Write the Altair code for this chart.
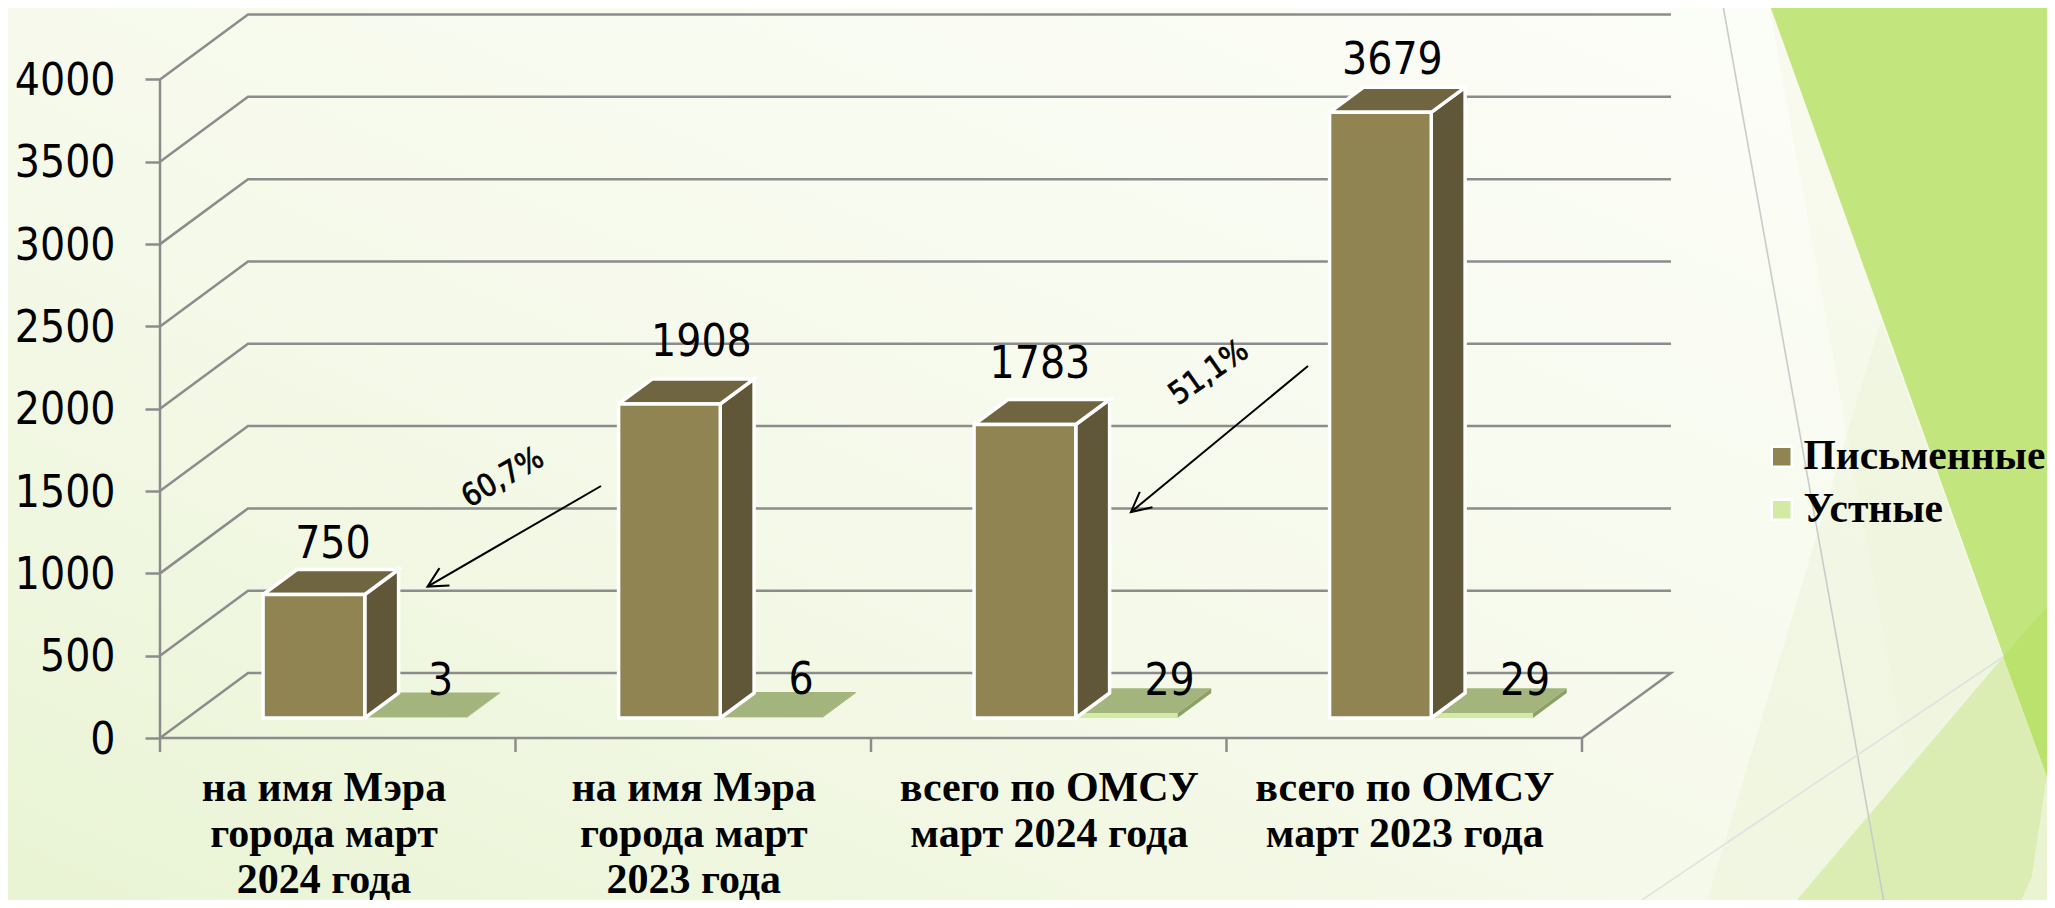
import math
import altair as alt
import pandas as pd

# ---------- chart values ----------
CATEGORY_LINES = [
    ["на имя Мэра", "города март", "2024 года"],
    ["на имя Мэра", "города март", "2023 года"],
    ["всего по ОМСУ", "март 2024 года"],
    ["всего по ОМСУ", "март 2023 года"],
]
WRITTEN = [750, 1908, 1783, 3679]
ORAL = [3, 6, 29, 29]
SERIES = ["Письменные", "Устные"]
Y_TICKS = [0, 500, 1000, 1500, 2000, 2500, 3000, 3500, 4000]
ANNOTATIONS = ["60,7%", "51,1%"]

# ---------- layout of the picture (page pixels) ----------
W, H = 2039, 892
PAGE = 8
X0, CAT_PX = 160.0, 355.5         # left of axis, width of a category
Y0, VAL_PX = 738.0, 658.5 / 4000  # baseline, pixels per unit
WALL_DX, WALL_DY = 88.0, 65.0     # depth of the 3D box

ux = lambda X: (X - X0) / CAT_PX
uy = lambda Y: (Y0 - Y) / VAL_PX
DEPTH_X = WALL_DX / CAT_PX
DEPTH_Y = WALL_DY / VAL_PX

XS = alt.Scale(domain=[ux(PAGE), ux(PAGE + W)], nice=False, zero=False)
YS = alt.Scale(domain=[uy(PAGE + H), uy(PAGE)], nice=False, zero=False)

GAP, BAR_W = 0.2138, 0.286
D1, D2 = 20 / 65, 45 / 65

# ---------- axes (shared by every layer, drawn on top through zindex) ----------
GRID = "#8c8c8c"
LABEL_FONT = "DejaVu Sans Condensed"
LABEL_SIZE = 44
LABEL_AT = [0.46, 1.5, 2.5, 3.5]
expr = "''"
for at, lines in zip(LABEL_AT, CATEGORY_LINES):
    arr = "[" + ",".join("'" + s + "'" for s in lines) + "]"
    expr = f"abs(datum.value-{at})<0.01 ? {arr} : ({expr})"

XA = alt.Axis(
    title=None,
    orient="bottom",
    offset=-(PAGE + H - Y0),
    values=LABEL_AT,
    labelExpr=expr,
    ticks=False,
    domain=False,
    grid=False,
    labelFont="Liberation Serif",
    labelFontWeight="bold",
    labelFontSize=42,
    labelLineHeight=46,
    labelColor="#000000",
    labelPadding=29,
    labelOverlap=False,
    labelFlush=False,
    labelBound=False,
    labelLimit=0,
    zindex=1,
)
YA = alt.Axis(
    title=None,
    orient="left",
    offset=-(X0 - PAGE),
    values=Y_TICKS,
    format="d",
    tickSize=15,
    tickWidth=2.5,
    tickColor=GRID,
    domain=False,
    grid=False,
    labelFont=LABEL_FONT,
    labelFontSize=LABEL_SIZE,
    labelColor="#000000",
    labelPadding=30,
    labelOffset=2,
    labelOverlap=False,
    labelBound=False,
    labelFlush=False,
    zindex=1,
)
XE = alt.X("x:Q", scale=XS, axis=XA)
YE = alt.Y("y:Q", scale=YS, axis=YA)


def poly(points, fill=None, stroke=None, sw=0.0, opacity=1.0):
    """points: list of (x, y) in data units, closed automatically."""
    closed = list(points) + ([points[0]] if fill else [])
    df = pd.DataFrame(
        {"x": [p[0] for p in closed], "y": [p[1] for p in closed], "i": range(len(closed))}
    )
    kw = {"strokeWidth": sw, "opacity": opacity, "strokeJoin": "miter", "clip": False}
    if fill:
        kw["fill"] = fill
    kw["stroke"] = stroke if stroke else "transparent"
    return alt.Chart(df).mark_line(**kw).encode(x=XE, y=YE, order="i:Q")


def px_poly(points, **kw):
    return poly([(ux(a), uy(b)) for a, b in points], **kw)


layers = []

# ---------- background ----------
bg = alt.Chart(pd.DataFrame({"a": [0]})).mark_rect(
    fill=alt.Gradient(
        gradient="linear",
        x1=1, y1=0, x2=0, y2=1,
        stops=[
            alt.GradientStop(color="#fdfefa", offset=0),
            alt.GradientStop(color="#f8fbf0", offset=0.35),
            alt.GradientStop(color="#f5f9e9", offset=0.6),
            alt.GradientStop(color="#e9f4d4", offset=1),
        ],
    )
).encode(x=alt.value(0), x2=alt.value(W), y=alt.value(0), y2=alt.value(H))
layers.append(bg)

layers += [
    px_poly([(1881, 321), (1705, 908), (1790, 908), (2003, 657)], fill="#e6f1cd", opacity=0.32),
    px_poly([(1768, 0), (1907, 763), (2003, 657)], fill="#e6f1cd", opacity=0.22),
    px_poly([(1768, 0), (2047, 777), (2060, 720), (2060, 0)], fill="#c3e57e"),
    px_poly([(2003, 657), (2060, 592), (2060, 720), (2047, 777)], fill="#bae26d"),
    px_poly([(1790, 908), (2003, 657), (2047, 777), (2032, 877), (2018, 908)], fill="#dcedb4"),
    px_poly([(2018, 908), (2032, 877), (2047, 777), (2060, 810), (2060, 908)], fill="#eaf4d3"),
    px_poly([(1722, 0), (1885, 908)], stroke="#c9cbcb", sw=1.6),
    px_poly([(1630, 908), (2003, 657)], stroke="#dfe2df", sw=1.6),
]

# ---------- walls and grid ----------
for v in Y_TICKS:
    if v > 0:
        layers.append(poly([(0, v), (DEPTH_X, v + DEPTH_Y), (ux(1671), v + DEPTH_Y)], stroke=GRID, sw=2.5))
layers.append(poly([(0, 0), (DEPTH_X, DEPTH_Y), (ux(1671), DEPTH_Y), (4, 0), (0, 0)], stroke=GRID, sw=2.5))
layers.append(poly([(0, 0), (0, 4000)], stroke=GRID, sw=2.5))
for i in range(5):
    layers.append(poly([(i, 0), (i, uy(Y0 + 14))], stroke=GRID, sw=2.5))


# ---------- 3D bars ----------
def box(xl, xr, value, top_col, side_col, stroke, sw):
    bx, by = D1 * DEPTH_X, D1 * DEPTH_Y
    tx, ty = D2 * DEPTH_X, D2 * DEPTH_Y
    side = poly(
        [(xr + bx, by), (xr + tx, ty), (xr + tx, ty + value), (xr + bx, by + value)],
        fill=side_col, stroke=stroke, sw=sw,
    )
    top = poly(
        [(xl + bx, by + value), (xr + bx, by + value), (xr + tx, ty + value), (xl + tx, ty + value)],
        fill=top_col, stroke=stroke, sw=sw,
    )
    return [side, top]


color = alt.Color(
    "series:N",
    scale=alt.Scale(domain=SERIES, range=["#918453", "#d3eaa5"]),
    legend=alt.Legend(
        title=None,
        orient="none",
        legendX=1761 - PAGE,
        legendY=436 - PAGE,
        padding=0,
        symbolType="square",
        symbolSize=400,
        symbolStrokeColor="#ffffff",
        symbolStrokeWidth=2.5,
        symbolOpacity=1,
        labelFont="Liberation Serif",
        labelFontWeight="bold",
        labelFontSize=41.5,
        labelColor="#000000",
        labelLimit=400,
        labelOffset=1,
        rowPadding=10,
    ),
)


def fronts(values, name, offset, stroke, sw):
    bx, by = D1 * DEPTH_X, D1 * DEPTH_Y
    df = pd.DataFrame(
        {
            "x": [i + GAP + offset * BAR_W + bx for i in range(4)],
            "x2": [i + GAP + (offset + 1) * BAR_W + bx for i in range(4)],
            "y": [by] * 4,
            "y2": [by + v for v in values],
            "series": [name] * 4,
        }
    )
    return alt.Chart(df).mark_rect(stroke=stroke, strokeWidth=sw, opacity=1, strokeJoin="miter").encode(
        x=XE, x2="x2:Q", y=YE, y2="y2:Q", color=color,
    )


for i, v in enumerate(ORAL):
    layers += box(i + GAP + BAR_W, i + GAP + 2 * BAR_W, v, "#a3b47d", "#8da066", None, 0)
layers.append(fronts(ORAL, SERIES[1], 1, "transparent", 0))
for i, v in enumerate(WRITTEN):
    layers += box(i + GAP, i + GAP + BAR_W, v, "#6f6540", "#5f5737", "#ffffff", 3.5)
layers.append(fronts(WRITTEN, SERIES[0], 0, "#ffffff", 3.5))

# ---------- value labels ----------
bx, by = D1 * DEPTH_X, D1 * DEPTH_Y
lab_rows = []
W_NUDGE = [(19, 52.5), (32, 64), (15, 62.5), (12, 54)]  # px from the front-face top centre
O_NUDGE = [(25, 39), (30, 39), (43, 34), (43, 34)]
for i, v in enumerate(WRITTEN):
    cx = i + GAP + 0.5 * BAR_W + bx
    lab_rows.append({"x": cx + W_NUDGE[i][0] / CAT_PX, "y": by + v + W_NUDGE[i][1] / VAL_PX, "t": str(v)})
for i, v in enumerate(ORAL):
    cx = i + GAP + 1.5 * BAR_W + bx
    lab_rows.append({"x": cx + O_NUDGE[i][0] / CAT_PX, "y": by + v + O_NUDGE[i][1] / VAL_PX, "t": str(v)})
layers.append(
    alt.Chart(pd.DataFrame(lab_rows)).mark_text(
        font=LABEL_FONT, fontSize=LABEL_SIZE, color="#000000", align="center", baseline="middle", dy=3
    ).encode(x=XE, y=YE, text="t:N")
)


# ---------- arrows and percentages ----------
def arrow(x1, y1, x2, y2, barb=22, spread=27):
    ang = math.atan2(y1 - y2, x1 - x2)
    out = [px_poly([(x1, y1), (x2, y2)], stroke="#000000", sw=2)]
    p1 = (x2 + barb * math.cos(ang + math.radians(spread)), y2 + barb * math.sin(ang + math.radians(spread)))
    p2 = (x2 + barb * math.cos(ang - math.radians(spread)), y2 + barb * math.sin(ang - math.radians(spread)))
    out.append(px_poly([p1, (x2, y2), p2], stroke="#000000", sw=2))
    return out


layers += arrow(601, 486, 427.5, 586.6)
layers += arrow(1308, 366, 1131, 512)
ANG = [330, 325]
POS = [(503, 478), (1209, 373)]
for t, a, (px_, py_) in zip(ANNOTATIONS, ANG, POS):
    layers.append(
        alt.Chart(pd.DataFrame({"x": [ux(px_)], "y": [uy(py_)], "t": [t]})).mark_text(
            font=LABEL_FONT, fontSize=31, color="#000000", stroke="#000000", strokeWidth=0.7,
            align="center", baseline="middle", angle=a
        ).encode(x=XE, y=YE, text="t:N")
    )

chart = (
    alt.layer(*layers)
    .properties(width=W, height=H, autosize=alt.AutoSizeParams(type="none"), padding=0)
    .configure_view(stroke=None)
)
chart.save("out.html", embed_options={"renderer": "svg", "actions": False})
